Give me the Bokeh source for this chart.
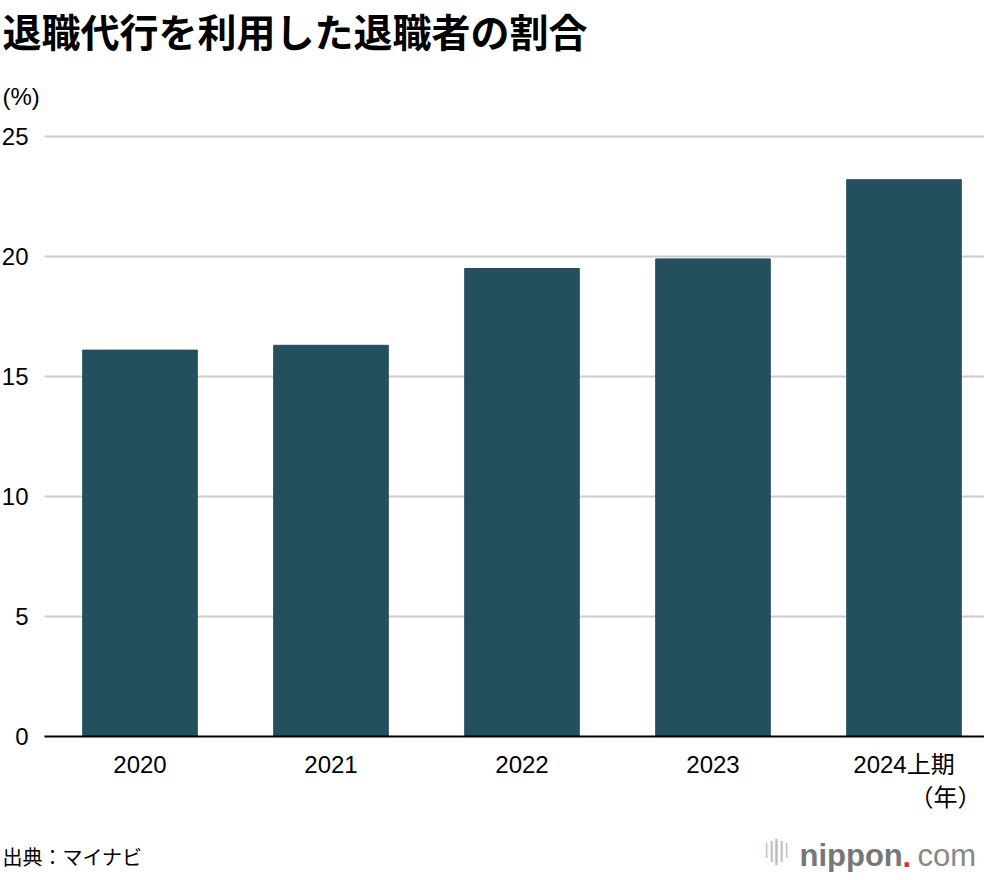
from bokeh.plotting import figure
from bokeh.models import Label, Range1d, ColumnDataSource
from bokeh.core.properties import value
from bokeh.embed import file_html
from bokeh.resources import INLINE

categories = ["2020", "2021", "2022", "2023", "2024上期"]
values = [16.1, 16.3, 19.5, 19.9, 23.2]
y_ticks = [0, 5, 10, 15, 20, 25]
title_text = "退職代行を利用した退職者の割合"
unit_y = "(%)"
unit_x = "（年）"
source_text = "出典：マイナビ"

W, H = 984, 872
LAT = "'Liberation Sans', 'Noto Sans CJK JP'"
JP = "'Noto Sans CJK JP'"
BAR = "#234F5E"

# layout geometry (pixels): plot area left edge, zero line, px per unit
PX_X = 191.0
PX_Y = 24.0
LEFT = 44.0     # from canvas left to plot-area left
ZERO = 736.0    # from canvas top to zero line

x_range = Range1d(-LEFT / PX_X, (W - LEFT) / PX_X)
y_range = Range1d(-(H - ZERO) / PX_Y, ZERO / PX_Y)

p = figure(width=W, height=H, x_range=x_range, y_range=y_range,
           output_backend="svg", toolbar_location=None, title=None,
           x_axis_location=None, y_axis_location=None,
           min_border=0, min_border_left=0, min_border_right=0,
           min_border_top=0, min_border_bottom=0)
p.outline_line_color = None
p.grid.visible = False
p.background_fill_color = "white"
p.border_fill_color = "white"

n = len(categories)
xc = [i + 0.5 for i in range(n)]

# gridlines
grid_y = [t for t in y_ticks if t != 0]
p.segment(x0=[0] * len(grid_y), x1=[n] * len(grid_y), y0=grid_y, y1=grid_y,
          line_color="#cccccc", line_width=2)

# bars
src = ColumnDataSource(dict(x=xc, top=values, label=categories))
p.vbar(x="x", top="top", width=0.6, bottom=0, source=src, color=BAR)

# zero axis line
p.segment(x0=[0], x1=[n], y0=[0], y1=[0], line_color="black", line_width=2)

# y tick labels
p.text(x=[0] * len(y_ticks), y=y_ticks, text=[str(t) for t in y_ticks],
       x_offset=-16, text_align="right", text_baseline="middle",
       text_font=value(LAT), text_font_size="24px", text_color="black")

# x tick labels
p.text(x="x", y=0, text="label", source=src, y_offset=28,
       text_align="center", text_baseline="middle",
       text_font=value(LAT), text_font_size="24px", text_color="black")


def lab(text, x, y, size, font=LAT, align="left", baseline="middle",
        color="black", style="normal"):
    p.add_layout(Label(x=x, y=y, x_units="screen", y_units="screen",
                       text=text, text_font=font, text_font_size=size,
                       text_align=align, text_baseline=baseline,
                       text_color=color, text_font_style=style))


lab(title_text, 2, H - 29, "39px", font=JP, style="bold")
lab(unit_y, 2, H - 96, "24px")
lab(unit_x, W - 3, H - 795, "24px", font=JP, align="right")
lab(source_text, 2, H - 856, "20px", font=JP)

# nippon.com logo approximation
icon_h = [10, 16, 22, 16, 10]
for i, hgt in enumerate(icon_h):
    lab("|", 766 + i * 5, H - 849, f"{hgt + 6}px", color="#bbbbbb", align="center")
lab("nippon", 799, H - 855, "31px", color="#777777", style="bold", baseline="alphabetic")
lab(".", 902, H - 855, "31px", color="#e8262b", style="bold", baseline="alphabetic")
lab("com", 917, H - 855, "31px", color="#888888", baseline="alphabetic")

open("out.html", "w").write(file_html(p, INLINE))
